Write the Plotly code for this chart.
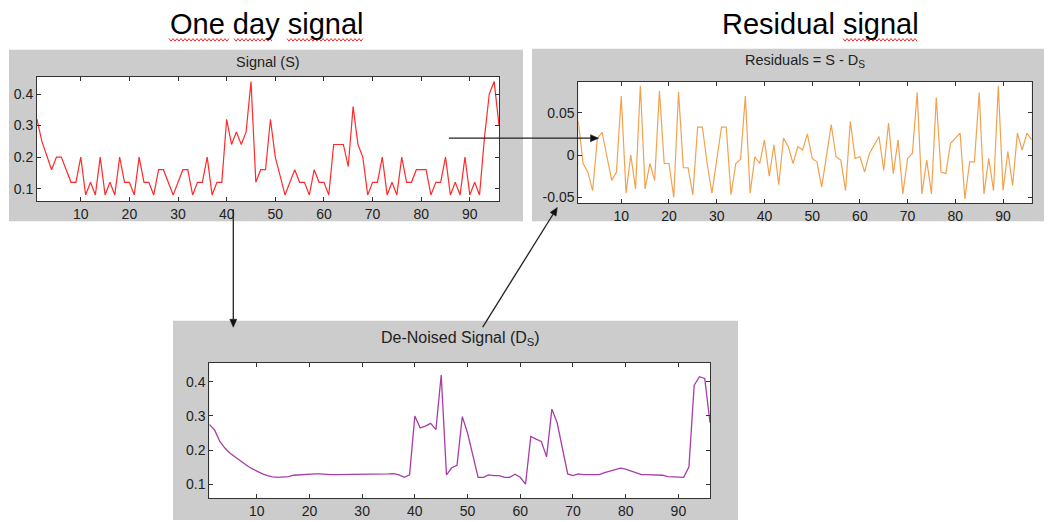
import math
import plotly.graph_objects as go

# ---------------- data ----------------
x_idx = list(range(1, 97))

signal_S = [0.32, 0.25, 0.205, 0.16, 0.2, 0.2, 0.16, 0.12, 0.12, 0.2,
            0.08, 0.12, 0.08, 0.2, 0.08, 0.12, 0.08, 0.2, 0.12, 0.12,
            0.08, 0.2, 0.12, 0.12, 0.08, 0.16, 0.16, 0.12, 0.08, 0.12,
            0.16, 0.16, 0.08, 0.12, 0.12, 0.2, 0.08, 0.12, 0.12, 0.32,
            0.24, 0.28, 0.24, 0.28, 0.44, 0.12, 0.16, 0.16, 0.32, 0.2,
            0.14, 0.08, 0.12, 0.16, 0.12, 0.12, 0.08, 0.16, 0.12, 0.12,
            0.08, 0.24, 0.24, 0.24, 0.17, 0.36, 0.24, 0.2, 0.08, 0.12,
            0.12, 0.2, 0.08, 0.12, 0.08, 0.2, 0.12, 0.12, 0.16, 0.16,
            0.16, 0.08, 0.12, 0.12, 0.2, 0.08, 0.12, 0.08, 0.2, 0.08,
            0.12, 0.08, 0.26, 0.4, 0.44, 0.3]

residuals = [0.04, -0.01, -0.02, -0.042, 0.02, 0.027, -0.002, -0.03, -0.02, 0.07,
             -0.045, 0.0, -0.04, 0.082, -0.04, -0.01, -0.03, 0.076, -0.01, -0.01,
             -0.05, 0.075, -0.015, -0.015, -0.047, 0.033, 0.033, -0.01, -0.045, -0.005,
             0.033, 0.033, -0.047, -0.01, -0.005, 0.07, -0.045, -0.002, -0.01, 0.018,
             -0.025, 0.012, -0.035, 0.02, 0.01, -0.01, 0.01, 0.006, 0.025, -0.004,
             -0.008, -0.038, 0.002, 0.036, -0.002, -0.006, -0.042, 0.04, -0.004, -0.002,
             -0.02, 0.002, 0.012, 0.022, -0.018, 0.038, -0.022, 0.018, -0.046, -0.004,
             0.002, 0.074, -0.046, -0.006, -0.046, 0.068, -0.02, -0.022, 0.014, 0.02,
             0.026, -0.052, -0.008, -0.008, 0.074, -0.046, -0.004, -0.042, 0.082, -0.042,
             0.004, -0.036, 0.026, 0.006, 0.026, 0.018]

denoised_D = [0.275, 0.259, 0.225, 0.205, 0.19, 0.178, 0.167, 0.156, 0.146, 0.138,
              0.131, 0.125, 0.121, 0.12, 0.12, 0.122, 0.126, 0.127, 0.13, 0.13,
              0.13, 0.13, 0.128, 0.128, 0.128, 0.128, 0.128, 0.128, 0.128, 0.128,
              0.128, 0.128, 0.128, 0.128, 0.13, 0.131, 0.127, 0.12, 0.127, 0.3,
              0.265, 0.27, 0.278, 0.26, 0.42, 0.127, 0.148, 0.155, 0.298, 0.25,
              0.186, 0.12, 0.12, 0.127, 0.125, 0.125, 0.12, 0.12, 0.129, 0.12,
              0.1, 0.24, 0.232, 0.225, 0.18, 0.32, 0.28, 0.21, 0.13, 0.125,
              0.13, 0.128, 0.128, 0.128, 0.128, 0.134, 0.139, 0.143, 0.147, 0.144,
              0.138, 0.132, 0.128, 0.128, 0.128, 0.128, 0.126, 0.122, 0.121, 0.121,
              0.12, 0.15, 0.39, 0.415, 0.41, 0.28]

x_ticks = [10, 20, 30, 40, 50, 60, 70, 80, 90]
sig_ticks = [0.1, 0.2, 0.3, 0.4]
res_ticks = [-0.05, 0, 0.05]
res_ticktext = ["-0.05", "0", "0.05"]

# ---------------- layout helpers ----------------
W, H = 1050, 522
def px(x):
    return x / W
def py(y):
    return 1 - y / H

FONT = "Liberation Sans, Arial, Helvetica, sans-serif"
AXC = "#333333"

fig = go.Figure()
fig.add_trace(go.Scatter(x=x_idx, y=signal_S, mode="lines",
                         line=dict(color="#ff2a2a", width=1.2),
                         xaxis="x", yaxis="y", showlegend=False))
fig.add_trace(go.Scatter(x=x_idx, y=residuals, mode="lines",
                         line=dict(color="#f2a24e", width=1.2),
                         xaxis="x2", yaxis="y2", showlegend=False))
fig.add_trace(go.Scatter(x=x_idx, y=denoised_D, mode="lines",
                         line=dict(color="#a83ca8", width=1.3),
                         xaxis="x3", yaxis="y3", showlegend=False))

def xax(domain, anchor, size):
    return dict(domain=domain, anchor=anchor, range=[1, 96], tickvals=x_ticks,
                ticks="inside", ticklen=4, tickcolor=AXC, showline=True,
                linecolor=AXC, linewidth=1, mirror="ticks", showgrid=False,
                zeroline=False, tickfont=dict(family=FONT, size=size, color="#222"))

def yax(domain, anchor, rng, tv, size, tt=None):
    d = dict(domain=domain, anchor=anchor, range=rng, tickvals=tv,
             ticks="inside", ticklen=4, tickcolor=AXC, showline=True,
             linecolor=AXC, linewidth=1, mirror="ticks", showgrid=False,
             zeroline=False, tickfont=dict(family=FONT, size=size, color="#222"))
    if tt is not None:
        d["ticktext"] = tt
    return d

shapes = []
# gray figure panels
for (x0, y0, x1, y1) in [(9, 50, 523, 222), (532, 49, 1044, 222), (173, 322, 738, 522)]:
    shapes.append(dict(type="rect", xref="paper", yref="paper",
                       x0=px(x0), x1=px(x1), y0=py(y1), y1=py(y0),
                       fillcolor="#cccccc", line=dict(width=0), layer="below"))
# white axes backgrounds
for xr, yr in [("x", "y"), ("x2", "y2"), ("x3", "y3")]:
    shapes.append(dict(type="rect", xref=xr + " domain", yref=yr + " domain",
                       x0=0, x1=1, y0=0, y1=1, fillcolor="white",
                       line=dict(width=0), layer="below"))

# red spell-check squiggles
def squiggle(xa, xb, yb):
    pts = []
    x = xa
    up = True
    while x <= xb:
        pts.append((x, yb - 1.3 if up else yb + 1.3))
        up = not up
        x += 2
    path = "M " + " L ".join(f"{px(a):.5f},{py(b):.5f}" for a, b in pts)
    return dict(type="path", xref="paper", yref="paper", path=path,
                line=dict(color="#ee3333", width=1))

for seg in [(169, 229), (234, 272), (287, 363), (843, 918)]:
    shapes.append(squiggle(seg[0], seg[1], 40))

# connector arrows (line + filled triangular head), given in pixel positions
def arrow(tail, tip, head_len=8, head_w=7):
    (x0, y0), (x1, y1) = tail, tip
    d = math.hypot(x1 - x0, y1 - y0)
    ux, uy = (x1 - x0) / d, (y1 - y0) / d
    bx, by = x1 - ux * head_len, y1 - uy * head_len
    nx, ny = -uy, ux
    out = [dict(type="line", xref="paper", yref="paper",
                x0=px(x0), y0=py(y0), x1=px(bx), y1=py(by),
                line=dict(color="#222", width=1.3))]
    p1 = (bx + nx * head_w / 2, by + ny * head_w / 2)
    p2 = (bx - nx * head_w / 2, by - ny * head_w / 2)
    path = (f"M {px(x1):.5f},{py(y1):.5f} L {px(p1[0]):.5f},{py(p1[1]):.5f} "
            f"L {px(p2[0]):.5f},{py(p2[1]):.5f} Z")
    out.append(dict(type="path", xref="paper", yref="paper", path=path,
                    fillcolor="#111", line=dict(color="#111", width=0.5)))
    return out

shapes += arrow((233.3, 210), (233.3, 328.5))
shapes += arrow((449, 138.7), (598.5, 138.7))
shapes += arrow((482.7, 328.3), (557.3, 208.3))

def label(text, x, y, size, color="#222"):
    return dict(text=text, x=px(x), y=py(y), xref="paper", yref="paper",
                xanchor="center", yanchor="middle", showarrow=False,
                font=dict(family=FONT, size=size, color=color))

annotations = [
    label("One day signal", 266, 24, 29, "black"),
    label("Residual signal", 820.5, 24, 29, "black"),
    label("Signal (S)", 268, 62, 14.5),
    label("Residuals = S - D<sub>S</sub>", 805, 61, 14.5),
    label("De-Noised Signal (D<sub>S</sub>)", 460, 340, 16),
]

fig.update_layout(
    width=W, height=H, autosize=False,
    margin=dict(l=0, r=0, t=0, b=0, pad=0),
    paper_bgcolor="white", plot_bgcolor="white",
    showlegend=False,
    xaxis=xax([px(37), px(499)], "y", 14),
    yaxis=yax([py(202), py(77)], "x", [0.06, 0.455], sig_ticks, 14),
    xaxis2=xax([px(578.3), px(1031.7)], "y2", 14),
    yaxis2=yax([py(204), py(82.3)], "x2", [-0.057, 0.0865], res_ticks, 14, res_ticktext),
    xaxis3=xax([px(209.3), px(710)], "y3", 14),
    yaxis3=yax([py(500), py(364.3)], "x3", [0.059, 0.4556], sig_ticks, 14),
    shapes=shapes,
    annotations=annotations,
)

fig.write_html("out.html")
